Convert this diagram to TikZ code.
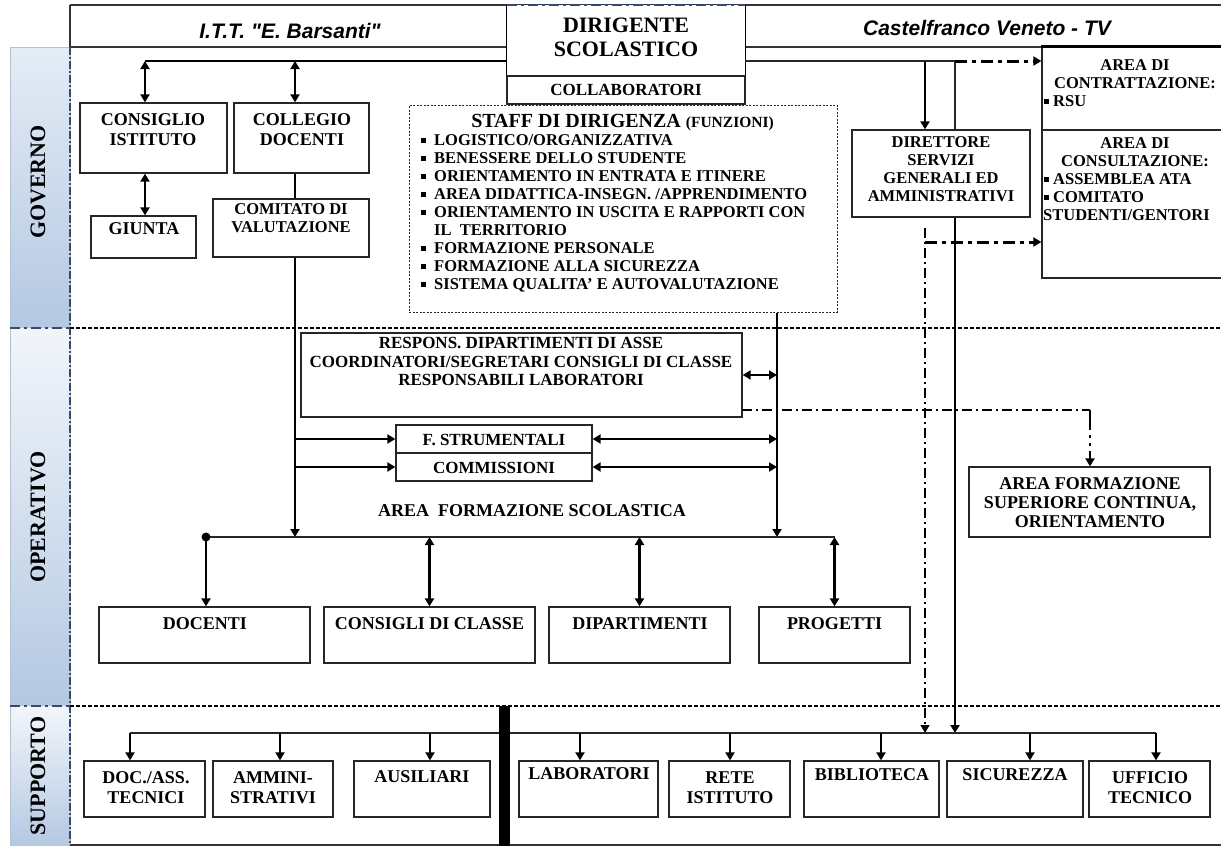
\documentclass[tikz,border=0pt]{standalone}
\usepackage{fontspec}
\setmainfont{Liberation Serif}
\newfontfamily\hdrfont{Liberation Sans}
\usetikzlibrary{arrows.meta,fit}
\definecolor{laneTop}{HTML}{E4ECF6}
\definecolor{laneBot}{HTML}{B4C8E2}
\definecolor{laneLine}{HTML}{2F4B76}
\newcommand\bul[1][13pt]{\makebox[#1][l]{\rule[3pt]{4.5pt}{4.5pt}}}
\begin{document}
\begin{tikzpicture}[x=1pt,y=-1pt,
  box/.style={draw=black!85, line width=1.3pt, fill=white, inner sep=0pt},
  txt/.style={align=center, inner sep=0pt},
  t22/.style={txt, font=\bfseries\fontsize{22}{24}\selectfont},
  t18/.style={txt, font=\bfseries\fontsize{18}{20}\selectfont},
  t17/.style={txt, font=\bfseries\fontsize{17}{18.5}\selectfont},
  t16/.style={txt, font=\bfseries\fontsize{16.5}{18}\selectfont},
  lst/.style={inner sep=0pt, font=\bfseries\fontsize{16.5}{18}\selectfont},
  hdr/.style={inner sep=0pt, font=\hdrfont\bfseries\itshape\fontsize{21}{24}\selectfont},
  lane/.style={inner sep=0pt, rotate=90, font=\bfseries\fontsize{22}{24}\selectfont},
  arr/.style={line width=2.6pt, -{Triangle[length=8pt,width=9pt]}},
  dbl/.style={line width=2.6pt, {Triangle[length=8pt,width=9pt]}-{Triangle[length=8pt,width=9pt]}},
  thn/.style={line width=1.4pt, draw=black!85},
  ddash/.style={line width=3pt, dash pattern=on 12pt off 5pt on 4pt off 5pt, -{Triangle[length=8pt,width=9pt]}},
  tdash/.style={line width=1.2pt, dash pattern=on 10pt off 4pt on 2pt off 4pt},
  sepline/.style={line width=1.8pt, dash pattern=on 4pt off 2pt},
  lanesep/.style={line width=2.5pt, draw=laneLine, dash pattern=on 10pt off 4pt on 3pt off 4pt},
  frame/.style={line width=1.3pt, draw=black!80}
]
\useasboundingbox (0,0) rectangle (1221,846);
\fill[white] (0,0) rectangle (1221,846);

% ---- lane band
\shade[top color=laneTop, bottom color=laneBot] (10,47) rectangle (70,328);
\shade[top color=laneTop!50!white, bottom color=laneBot] (10,328) rectangle (70,706);
\shade[top color=laneTop!50!white, bottom color=laneBot] (10,706) rectangle (70,846);
\draw[laneLine!35, line width=0.6pt] (10,47) rectangle (70,846);
\draw[lanesep] (10,328) -- (70,328);
\draw[lanesep] (10,706) -- (70,706);
\node[lane] (lgov) at (38,182) {GOVERNO};
\node[lane] (lope) at (38,517) {OPERATIVO};
\node[lane] (lsup) at (38,776) {SUPPORTO};

% ---- frame
\draw[frame] (70,5) -- (1221,5);
\draw[frame] (70,47) -- (1221,47);
\draw[frame] (70,5) -- (70,47);
\draw[frame] (70,845) -- (1221,845);
\draw[line width=1.2pt, laneLine, dash pattern=on 8pt off 2pt on 2pt off 2pt] (70,47) -- (70,845);
\draw[sepline] (70,328) -- (1221,328);
\draw[sepline] (70,706) -- (1221,706);

\node[hdr] (h1) at (290,31) {I.T.T. "E. Barsanti"};
\node[hdr] (h2) at (987,28) {Castelfranco Veneto - TV};

% ---- boxes
\node[fit={(507,5) (745,76)}, inner sep=0pt, fill=white] (dir) {};
\draw[line width=1.3pt] (dir.north west) -- (dir.south west) -- (dir.south east) -- (dir.north east);
\draw[line width=2pt, laneLine, dash pattern=on 10pt off 4pt on 3pt off 4pt] (dir.north west) -- (dir.north east);
\node[box, fit={(507,76) (745,104)}] (col) {};
\node[box, line width=1pt, dash pattern=on 2pt off 1.5pt, fit={(409,105) (837,312)}] (staff) {};

\node[box, fit={(80,103) (227,173)}] (cons) {};
\node[box, fit={(234,103) (369,173)}] (coll) {};
\node[box, fit={(91,216) (196,258)}] (giunta) {};
\node[box, fit={(213,199) (369,257)}] (comit) {};

\node[box, fit={(852,130) (1030,217)}] (dsga) {};
\node[box, fit={(1042,47) (1230,130)}] (contr) {};
\draw[line width=2.4pt] (contr.north west) -- (contr.north east);
\node[box, fit={(1042,130) (1230,278)}] (consult) {};

\node[box, fit={(301,333) (742,417)}] (resp) {};
\node[box, fit={(396,425) (592,453)}] (fstr) {};
\node[box, fit={(396,453) (592,481)}] (comm) {};
\node[box, fit={(969,467) (1210,537)}] (afs) {};

\node[box, fit={(99,607) (310,663)}] (doc) {};
\node[box, fit={(324,607) (535,663)}] (cdc) {};
\node[box, fit={(549,607) (730,663)}] (dip) {};
\node[box, fit={(759,607) (910,663)}] (prog) {};

\node[box, fit={(84,761) (205,817)}] (dat) {};
\node[box, fit={(213,761) (333,817)}] (amm) {};
\node[box, fit={(354,761) (490,817)}] (aus) {};
\node[box, fit={(519,761) (658,817)}] (lab) {};
\node[box, fit={(669,761) (790,817)}] (rete) {};
\node[box, fit={(804,761) (939,817)}] (bib) {};
\node[box, fit={(947,761) (1083,817)}] (sic) {};
\node[box, fit={(1089,761) (1210,817)}] (uff) {};

% ---- connectors: governo
\coordinate (jA) at (145,61);
\coordinate (jB) at (295,61);
\draw[line width=2.6pt] (jA) -- (jA -| dir.west);
\draw[dbl] (jA) -- (jA |- cons.north);
\draw[dbl] (jB) -- (jB |- coll.north);
\draw[dbl] (jA |- cons.south) -- (jA |- giunta.north);
\draw[line width=2.2pt] (jB |- coll.south) -- (jB |- comit.north);

% ---- connectors: operativo
\coordinate (hL) at (206,537);
\coordinate (vR) at (777,312);
\draw[arr] (jB |- comit.south) -- (jB |- hL);
\draw[arr] (jB |- fstr.west) -- (fstr.west);
\draw[arr] (jB |- comm.west) -- (comm.west);
\draw[arr] (vR |- staff.south) -- (vR |- hL);
\draw[dbl] (resp.east) -- (resp.east -| vR);
\draw[dbl] (fstr.east) -- (fstr.east -| vR);
\draw[dbl] (comm.east) -- (comm.east -| vR);
\draw[thn] (hL) -- (hL -| prog.north);
\fill (hL) circle (4.5pt);
\draw[arr] (hL) -- (hL |- doc.north);
\draw[dbl] (cdc.north |- hL) -- (cdc.north);
\draw[dbl] (dip.north |- hL) -- (dip.north);
\draw[dbl] (prog.north |- hL) -- (prog.north);

\coordinate (dA) at (742,410);
\coordinate (dB) at (1090,410);
\draw[tdash] (dA) -- (dB);
\draw[line width=2.6pt, dash pattern=on 20pt off 5pt on 3pt off 5pt on 3pt off 5pt, -{Triangle[length=8pt,width=9pt]}] (dB) -- (dB |- afs.north);

% ---- connectors: right side
\coordinate (rA) at (925,61);
\coordinate (rB) at (955,61);
\coordinate (rC) at (925,228);
\coordinate (rD) at (925,242);
\coordinate (sH) at (130,733);
\draw[thn] (dir.east |- rA) -- (rB);
\draw[line width=2pt, -{Triangle[length=8pt,width=9pt]}] (rA) -- (rA |- dsga.north);
\draw[thn] (rB) -- (rB |- dsga.north);
\draw[ddash] (rB) -- (rB -| contr.west);
\draw[ddash] (rD) -- (rD -| consult.west);
\draw[arr] (rB |- dsga.south) -- (rB |- sH);
\draw[tdash, -{Triangle[length=8pt,width=9pt]}] (rC) -- (rC |- sH);

% ---- connectors: supporto
\coordinate (s1) at (130,733);
\coordinate (s2) at (280,733);
\coordinate (s3) at (430,733);
\coordinate (s4) at (580,733);
\coordinate (s5) at (730,733);
\coordinate (s6) at (881,733);
\coordinate (s7) at (1030,733);
\coordinate (s8) at (1156,733);
\draw[thn] (s1) -- (s8);
\draw[arr] (s1) -- (s1 |- dat.north);
\draw[arr] (s2) -- (s2 |- amm.north);
\draw[arr] (s3) -- (s3 |- aus.north);
\draw[arr] (s4) -- (s4 |- lab.north);
\draw[arr] (s5) -- (s5 |- rete.north);
\draw[arr] (s6) -- (s6 |- bib.north);
\draw[arr] (s7) -- (s7 |- sic.north);
\draw[arr] (s8) -- (s8 |- uff.north);
\fill (499,706) rectangle (510,846);

% ---- texts
\node[t22] (dirt) at (626,37) {DIRIGENTE\\SCOLASTICO};
\node[t17] (colt) at (626,90) {COLLABORATORI};
\node[anchor=base, inner sep=0pt, font=\bfseries] (stafft) at (622.5,127.5) {\fontsize{20}{21}\selectfont STAFF DI DIRIGENZA \fontsize{15.5}{16}\selectfont(FUNZIONI)};
\node[lst, anchor=base west] (st1) at (421,145.5) {\bul LOGISTICO/ORGANIZZATIVA};
\node[lst, anchor=base west] (st2) at (421,163.5) {\bul BENESSERE DELLO STUDENTE};
\node[lst, anchor=base west] (st3) at (421,181.5) {\bul ORIENTAMENTO IN ENTRATA E ITINERE};
\node[lst, anchor=base west] (st4) at (421,199.5) {\bul AREA DIDATTICA-INSEGN. /APPRENDIMENTO};
\node[lst, anchor=base west] (st5) at (421,217.5) {\bul ORIENTAMENTO IN USCITA E RAPPORTI CON};
\node[lst, anchor=base west] (st6) at (421,235.5) {\hspace*{13pt}IL\ \ TERRITORIO};
\node[lst, anchor=base west] (st7) at (421,253.5) {\bul FORMAZIONE PERSONALE};
\node[lst, anchor=base west] (st8) at (421,271.5) {\bul FORMAZIONE ALLA SICUREZZA};
\node[lst, anchor=base west] (st9) at (421,289.5) {\bul SISTEMA QUALITA’ E AUTOVALUTAZIONE};

\node[t18] (const) at (153,130) {CONSIGLIO\\ISTITUTO};
\node[t18] (collt) at (302,130) {COLLEGIO\\DOCENTI};
\node[t18] (giuntat) at (144,229) {GIUNTA};
\node[t16] (comitt) at (291,218.5) {COMITATO DI\\VALUTAZIONE};

\node[t16] (dsgat) at (941,169) {DIRETTORE\\SERVIZI\\GENERALI ED\\AMMINISTRATIVI};
\node[t16] (contrt) at (1135,74) {AREA DI\\CONTRATTAZIONE:};
\node[lst, anchor=base west] (contr1) at (1044,106.5) {\bul[9pt]RSU};
\node[t16] (consultt) at (1135,152) {AREA DI\\CONSULTAZIONE:};
\node[lst, anchor=base west] (cons1) at (1044,184.5) {\bul[9pt]ASSEMBLEA ATA};
\node[lst, anchor=base west] (cons2) at (1044,202.5) {\bul[9pt]COMITATO};
\node[lst, anchor=base west] (cons3) at (1043,220.5) {STUDENTI/GENTORI};

\node[t17, font=\bfseries\fontsize{17}{18.5}\selectfont] (respt) at (521,361.5) {RESPONS. DIPARTIMENTI DI ASSE\\COORDINATORI/SEGRETARI CONSIGLI DI CLASSE\\RESPONSABILI LABORATORI};
\node[t17] (fstrt) at (494,440) {F. STRUMENTALI};
\node[t17] (commt) at (494,468) {COMMISSIONI};
\node[t18] (afst0) at (532,511) {AREA\ \ FORMAZIONE SCOLASTICA};
\node[t18, font=\bfseries\fontsize{18}{19}\selectfont] (afst) at (1090,503) {AREA FORMAZIONE\\SUPERIORE CONTINUA,\\ORIENTAMENTO};

\node[t18] (doct) at (205,624) {DOCENTI};
\node[t18] (cdct) at (429.5,624) {CONSIGLI DI CLASSE};
\node[t18] (dipt) at (640,624) {DIPARTIMENTI};
\node[t18] (progt) at (834.5,624) {PROGETTI};

\node[t18] (datt) at (146,788) {DOC./ASS.\\TECNICI};
\node[t18] (ammt) at (273,788) {AMMINI-\\STRATIVI};
\node[t18] (aust) at (422,777) {AUSILIARI};
\node[t18] (labt) at (589,774) {LABORATORI};
\node[t18] (retet) at (730,788) {RETE\\ISTITUTO};
\node[t18] (bibt) at (872,775) {BIBLIOTECA};
\node[t18] (sict) at (1015,775) {SICUREZZA};
\node[t18] (ufft) at (1150,788) {UFFICIO\\TECNICO};
\end{tikzpicture}
\end{document}
